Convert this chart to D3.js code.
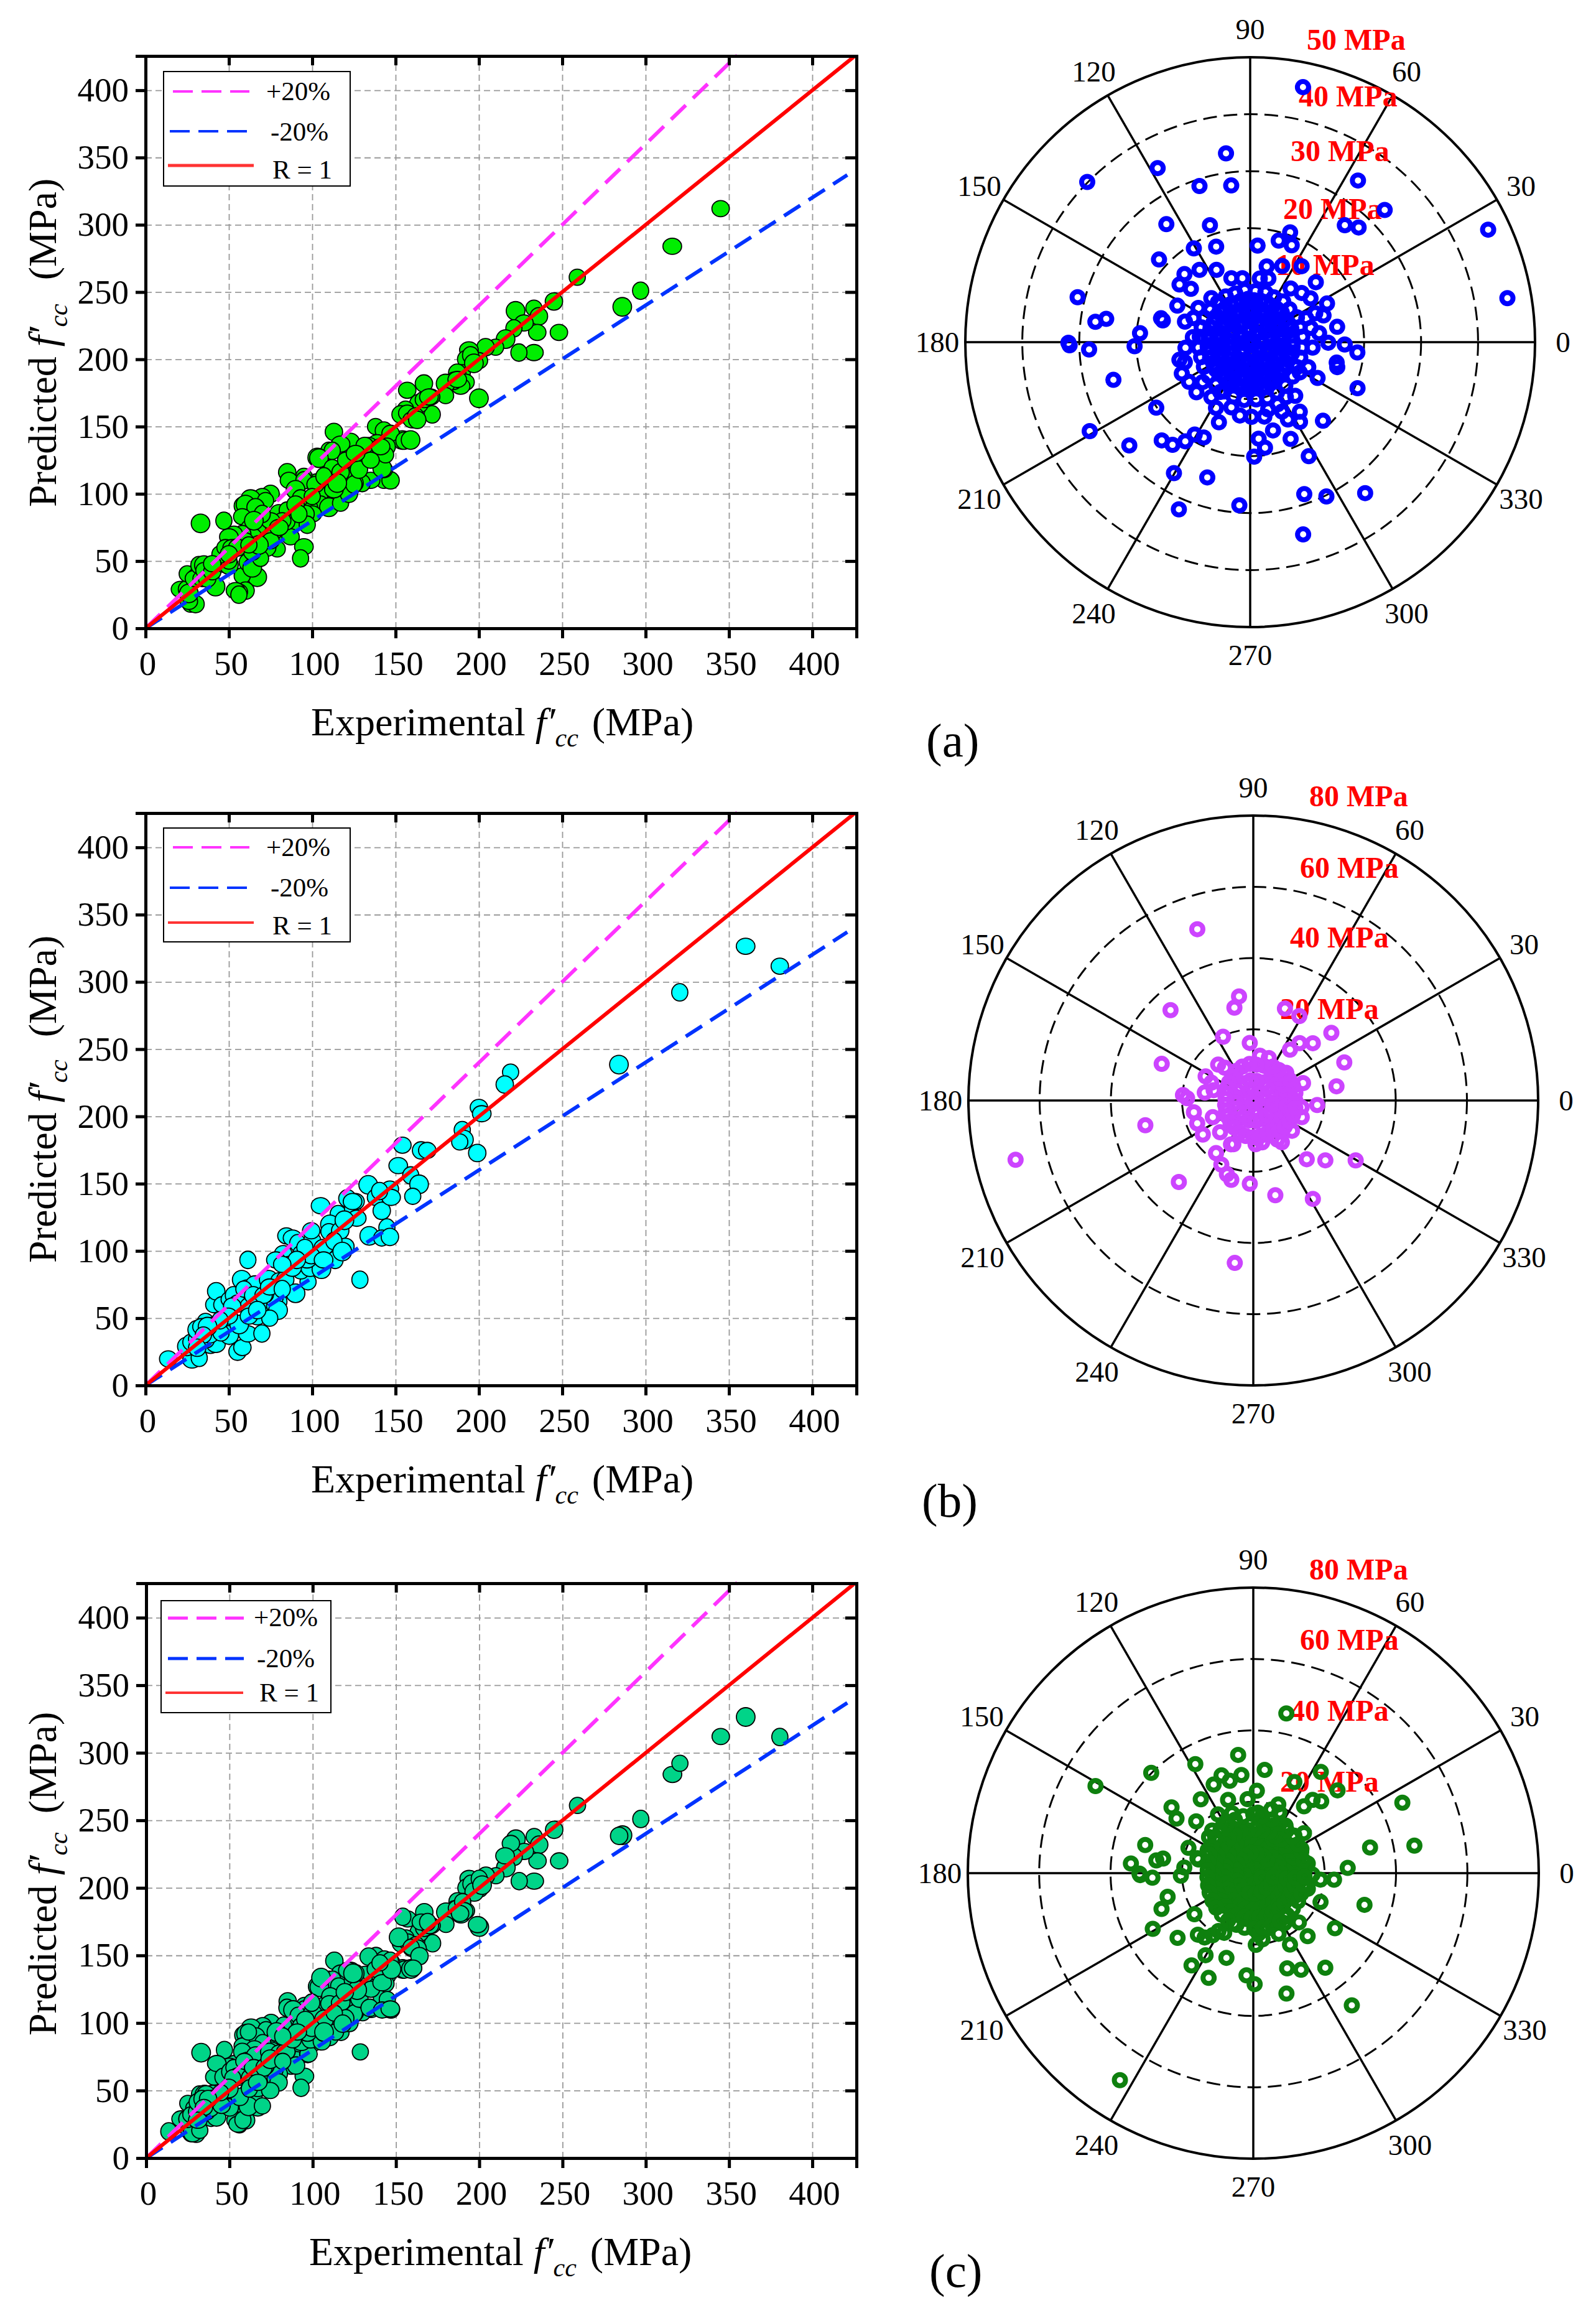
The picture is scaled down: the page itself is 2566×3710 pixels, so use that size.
<!DOCTYPE html>
<html>
<head>
<meta charset="utf-8">
<title>Predicted vs experimental f'cc</title>
<style>
    body { margin: 0; background: #fff; }
    text { font-family: "Liberation Serif", serif; fill: #000; }
</style>
</head>
<body>
<svg width="2566" height="3710"></svg>
<script src="https://d3js.org/d3.v7.min.js"></script>
<script>

// scatter values (MPa)
var expA = [345,316,297,286,259,245,248,233,224,222,
    233,236,235,227,221,216,210,204,200,194,
    192,200,190,187,192,189,185,180,180,167,
    157,171,172,164,156,153,157,160,156,154,
    138,143,147,139,145,134,131,113,123,117,
    110,103,143,147,143,135,130,125,119,115,
    110,112,108,103,95,85,86,104,105,110,
    117,122,98,100,95,90,93,96,87,90,
    97,80,85,75,70,63,58,60,72,66,
    58,63,70,78,65,58,53,50,47,33,
    79,73,87,95,93,67,58,60,56,54,
    56,42,27,30,26,21,24.5,26,25,31,
    29,34,32,35,35,37,40,45,47,50,
    50,45,48,52,61,64,69,64,77,84,
    112,104,112,117,102,113,125,142,144,132,
    131.5,141,155,159,120,128,135,126,107,115,
    100,90,82,75,70,65,60,55,75,80,
    92,68,62,50,40,187,195,197,162,163,
    167,170];
var predA = [312,284,251,239,261,243,220,205,205,236,
    238,232,220,227,223,215,209,209,199,207,
    200,171,190,190,183,180,184,182,173,182,
    177,172,159,167,163,159,160,155,140,140,
    150,147,145,138,135,135,128,146,139,137,
    132,127,110,110,118,110,108,108,115,116,
    116,105,103,108,113,116,110,100,92,90,
    93,100,90,85,110,103,97,85,80,79,
    77,85,88,100,98,97,91,92,95,90,
    83,75,72,70,68,70,70,68,80,78,
    59,60,68,60.6,52,38,39,28,27,28,
    25,31,18,18,20,29,29,26,40.5,39,
    37,37,47,47,43,37,42,49,48,47,
    50,55,60,60,49,45,52,57,72,79,
    132,126.5,119.5,116,107,103,107,119,129,128,
    136,135,139.5,140,125,118,125,130,113,108,
    98,92,80,80,85,80,65,60,65,75,
    85,62,62,55,48,185,203,197,158,155,
    170,172];

var expB = [380.5,360,320.5,284,219,215.5,200,201.7,190,191,
    188.5,199,13.6,27.9,32.2,24.8,27.2,31,39,42.2,
    36.6,31,36,40.9,33.5,38.4,48.4,50.2,45.3,55.2,
    58.1,61.4,69.8,56.2,40.9,42.4,46.1,50.9,52.7,57.7,
    60.8,55.2,62,65.8,61.4,73.9,69.5,67,62,78.2,
    80,77,80,83.8,82.6,78.2,86.2,90,97.5,93.2,
    84.5,88.2,91.3,98.7,93.2,100,99.4,105,115.6,110.6,
    110,116.8,119.9,106.8,113.7,105.5,124.2,121.1,126,126.7,
    128.6,133.6,137.9,141.7,146.6,147.3,144.8,134.2,141.7,146.6,
    154.1,151.6,159.1,164.1,160.3,165.3,169,96.9,72,88,
    59,64.6,70.8,74.5,82,79.5,74.5,67,52,49.6,
    44.7,37.2,34.7,31,99.4,106.8,113,118,95.6,90.7,
    82,124.2,140.4,119.3];
var predB = [311.7,326.5,292.2,238.5,232.9,223.7,206.7,202,189.8,182.7,
    181,172.8,19.7,18.9,20.5,29,32.1,34.4,29.8,30.5,
    34.4,41.4,47.6,44.5,43.7,37.5,49.9,37.5,39,25.1,
    28.2,38.3,38.6,45.3,60,70,60,63.9,67,78.6,
    72.4,60.8,59.2,75.5,93.3,78.6,56.9,51.5,51.5,59.2,
    62.3,65.4,77.8,78.6,98,93.3,89.5,68.5,77,85.6,
    111.2,109.6,105.7,87.9,98,107.3,115,133.6,127.4,119.7,
    114.3,115,103.4,102.6,93.3,86.4,131.3,139,136.7,124.3,
    78.6,149.1,139.8,129.8,146,139.8,117.4,111.2,109.6,110.4,
    178.6,163.4,156.1,149.5,140.6,174.7,174.7,93.3,68,88,
    71.6,67,67,73.2,71.6,56,50,56,59,51.5,
    48.4,43.7,37.5,28,96.4,93.3,107.3,99.5,102.6,93.3,
    90,136.7,144.5,122.8];

var expC = expA.concat(expB);
var predC = predA.concat(predB);

// reference lines
var upperX = [0, 355], upperY = [0, 426];
var lowerX = [0, 421], lowerY = [0, 337];
var unityX = [0, 425], unityY = [0, 425];

var axisTicks = [0, 50, 100, 150, 200, 250, 300, 350, 400];

// polar error values: angle in degrees, radius in MPa.
// the scattered marks are read one by one; the marks inside the solid centre
// cannot be told apart, so the core lists are estimates that fill the same area
var thetaA = [78.3,97.3,118,135.5,108,96.9,56.3,44.5,51,46.6,
    25.3,9.7,125.4,109,121,109.6,137.8,70,74.3,66.8,
    85.6,55.9,67.2,77.7,115,125,134,140.8,138,165.4,
    172.5,170.8,180.2,181,182.6,175.3,182,195.4,166,165,
    214.9,209,220.5,228,232.9,236.8,239,244,239.8,252.4,
    246.9,266.2,285.4,289.6,296.3,307.3,297.2,272,278,275,
    312.8,336.8,346.7,344,332,354.5,358.6,10,26.7,42.4,
    20,7.5,359.6,248.7,242.5,262,292.7,305.5,302,284.5,
    310,204.6,223,194,162.5,153.4,175,
    36,43.7,53,81.4,97,106.4,131.5,146.6,185,197,
    213,220,239,253.9,271,280.8,293.8,303,328.6,336.7,
    355,13.3,24,23,157,74,294.7,296,285,234.7];
var radiusA = [45.7,33.4,34.6,40.1,28.8,27.7,34.1,33.1,26.4,27.7,
    46.2,45.8,25.4,21.7,19.2,17.8,21.6,20.5,18.5,18.5,
    17,16.1,14.5,13.6,14,15.5,16.6,16,14,31.3,
    27.4,25.6,31.9,31.7,28.3,19.4,20.3,24.9,15.8,16.2,
    20.1,32.2,27.9,23.2,22.6,20.8,18.9,18.6,26.6,24.9,
    31.9,28.7,35,28.3,30.2,33.3,22.5,20.1,18.7,17,
    18.8,20.5,15.6,15.9,13.4,18.9,16.6,15.5,15.1,15.6,
    13.7,12.2,13.7,15.1,13,13,18.4,15,16.5,16,
    12.3,13.2,12.9,12.8,12,14.3,10.1,
    13.1,12.5,11.8,11.3,11.3,11.7,10.3,10.9,11.4,12,
    12.8,10.9,10.2,11.9,13.1,13.3,11.9,11.5,10.2,11.1,
    11,10.9,12.5,10.7,10.8,11.6,13.4,15.1,12.2,11.8];
var thetaCoreA = [5,52,97,141,186,229,277,321,
    2,19,37,55,71,90,108,125,145,161,179,197,214,233,251,269,288,305,324,341,
    3,14,26,37,49,61,72,84,95,107,118,130,142,153,165,176,188,200,211,223,235,246,258,270,281,293,304,316,328,339,351,
    1,9,18,26,34,43,51,60,68,76,85,93,102,110,118,127,135,144,152,160,169,177,186,194,202,211,219,228,236,244,253,261,270,278,286,295,303,312,320,328,337,345,354,
    6,17,28,40,51,62,73,84,96,107,118,129,141,152,163,174,186,197,208,219,231,242,253,264,276,287,298,309,321,332,343,354];
var radiusCoreA = [1.6,1.5,1.7,1.6,1.4,1.7,1.5,1.6,
    3.6,3.5,3.7,3.6,3.4,3.7,3.6,3.5,3.7,3.6,3.5,3.6,3.8,3.6,3.5,3.7,3.6,3.8,3.5,3.6,
    5.6,5.5,5.7,5.6,5.4,5.6,5.7,5.5,5.6,5.4,5.6,5.7,5.5,5.6,5.5,5.7,5.6,5.5,5.7,5.6,5.8,5.7,5.9,5.8,5.7,5.9,5.7,5.6,5.5,5.7,5.6,
    7.5,7.4,7.6,7.5,7.3,7.6,7.5,7.4,7.6,7.5,7.4,7.6,7.5,7.3,7.5,7.4,7.6,7.5,7.3,7.4,7.5,7.3,7.5,7.4,7.6,7.5,7.7,7.6,7.8,7.9,8,8.1,8,7.9,8.1,7.8,7.9,7.7,7.6,7.5,7.4,7.6,7.5,
    9.2,9.1,9.3,9,9.2,8.9,9.1,9,9.2,8.9,9.1,9,9,9.1,8.9,8.9,9.1,9,9.2,9.4,9.6,9.8,10,10.2,10.1,10.3,10,9.8,9.6,9.3,9.2,9.1];

var thetaB = [108.1,97.8,101.5,132.5,71,61.4,40.9,115.4,93.5,51.1,
    43.9,54.2,22.7,158.2,9.7,19.3,356,175.6,178,192.9,
    194,329.7,320.3,312.3,301.2,283.1,267.6,254.5,250.3,243.5,
    234.7,227.6,263.5,322,153.1,134.4,191.2,214,202.2,170.8,
    304.4,245.5,282,341,202.4,
    165.4,157,223.7,131,81.5,70,40,352,301.7,273,243];
var radiusB = [50.6,29.5,26.6,34.4,27.3,27,29,19.8,16.2,20.7,
    23.2,17.6,27.7,27.7,23.7,14.8,18,19.8,18.6,31.1,
    68.8,33.3,26.3,22.3,32.3,27.3,23.4,23.1,22,20.1,
    18.1,31,45.9,13.8,15,14.1,17,17.1,17,13.8,
    14.2,13.5,12,14.4,12.3,
    11.5,12.8,12.9,12.2,12.7,12.7,12.1,13.7,12.9,12.3,13.8];
var thetaCoreB = [12,58,103,148,190,238,283,330,
    8,26,44,61,80,97,115,133,150,170,187,205,222,240,259,276,294,312,330,349,
    4,16,27,39,50,62,73,85,96,108,120,131,143,154,166,177,189,201,212,224,235,247,258,270,282,293,305,316,328,339,351,
    0,10,20,30,40,50,60,310,320,330,340,350];
var radiusCoreB = [2.6,2.5,2.7,2.4,2.6,2.5,2.7,2.6,
    5.6,5.7,5.5,5.8,5.6,5.7,5.4,5.3,5.2,5,4.9,5.1,5.3,5.5,5.7,5.8,5.7,5.6,5.8,5.7,
    9.5,9.6,9.4,9.7,9.8,10,10.2,10.1,10.3,10,9.6,9,8.5,8.2,8,7.8,8,8.2,8.5,8.9,9.3,9.8,10.2,10.3,10.1,10,9.8,9.7,9.5,9.6,9.4,
    11.8,12,11.9,11.7,11.5,11.2,11,11.2,11.5,11.7,11.9,12];

var thetaExtraC = [237.2,151.1,12.4,344.1,306.7,3.2,326,310.8,355.4,65.7,
    83.7,104.3,114.1,94.4,87.5,52.8,141.2,144.6,175.5,158.7,
    201.3,236.2,270.7,38.3,
    2,12,21,31,40,50,59,69,78,88,97,107,116,126,135,145,154,164,173,183,192,202,211,221,230,240,249,259,268,278,287,297,306,316,325,335,344,354,
    5,14,24,33,43,52,62,71,81,90,100,109,119,128,138,147,157,166,176,185,195,204,214,223,233,242,252,261,271,280,290,299,309,318,328,337,347,356];
var radiusExtraC = [69,50.5,33.5,32.4,46.2,26.5,27.6,23.3,22.7,28,
    29.1,26.7,27.2,20.8,23.1,23.5,29.4,26.4,34.4,19.5,
    27.6,31.1,31.1,18.1,
    12,11.8,12.1,12.2,12,12.3,12.1,12.4,12.2,12.3,12.1,12.4,12,11.8,11.6,11.3,11.1,10.9,10.8,11,11.2,11.4,11.6,11.9,12.1,12.3,12.5,12.4,12.6,12.4,12.5,12.2,12.3,12,12.1,11.9,12,11.8,
    14.6,14.5,14.7,14.8,14.9,15.2,15.6,15.9,16.2,16.5,16.2,15.8,15.4,15,14.4,13.8,13.3,13,12.8,12.9,13.1,13.4,13.8,14.2,14.6,15,15.2,15.5,15.6,15.5,15.4,15.3,15.1,14.9,14.8,14.6,14.5,14.4];

var spokeAngles = [0, 30, 60, 90, 120, 150, 180, 210, 240, 270, 300, 330];
var ringsA = [10, 20, 30, 40, 50];
var ringsB = [20, 40, 60, 80];

var svg = d3.select("svg");

// slightly uneven markers, the source symbols are not quite round
var markerShapes = [[14, 13], [15, 13], [13, 14], [15, 15], [13, 13], [14, 14]];

function drawScatter(cfg) {
    var g = svg.append("g");
    var x = d3.scaleLinear().domain([0, 426.5]).range([cfg.left, cfg.right]);
    var y = d3.scaleLinear().domain([0, 425.5]).range([cfg.bottom, cfg.top]);
    var w = cfg.right - cfg.left, h = cfg.bottom - cfg.top;

    // grid
    var gx = g.append("g").attr("transform", "translate(0," + cfg.bottom + ")")
        .call(d3.axisBottom(x).tickValues(axisTicks.slice(1)).tickSize(-h).tickFormat(""));
    var gy = g.append("g").attr("transform", "translate(" + cfg.left + ",0)")
        .call(d3.axisLeft(y).tickValues(axisTicks.slice(1)).tickSize(-w).tickFormat(""));
    [gx, gy].forEach(function(a) {
        a.select(".domain").remove();
        a.selectAll("line").attr("stroke", "#999").attr("stroke-width", 1.8).attr("stroke-dasharray", "10,6");
    });

    // points
    g.selectAll("ellipse").data(cfg.xs).enter().append("ellipse")
        .attr("cx", function(d) { return x(d); })
        .attr("cy", function(d, i) { return y(cfg.ys[i]); })
        .attr("rx", function(d, i) { return markerShapes[i % 6][0]; })
        .attr("ry", function(d, i) { return markerShapes[i % 6][1]; })
        .attr("fill", cfg.fill)
        .attr("stroke", "#000")
        .attr("stroke-width", 1.8);

    // reference lines
    var refs = [
        {xs: upperX, ys: upperY, color: "#ff33ff", dash: "33,16", width: 6},
        {xs: lowerX, ys: lowerY, color: "#0033ff", dash: "31,16", width: 6},
        {xs: unityX, ys: unityY, color: "#ff0000", dash: null, width: 6}
    ];
    var line = d3.line();
    refs.forEach(function(r) {
        g.append("path")
            .attr("d", line(r.xs.map(function(v, i) { return [x(v), y(r.ys[i])]; })))
            .attr("fill", "none")
            .attr("stroke", r.color)
            .attr("stroke-width", r.width)
            .attr("stroke-dasharray", r.dash);
    });

    // axes with outer ticks, mirrored inner ticks on top and right
    var axes = [
        g.append("g").attr("transform", "translate(0," + cfg.bottom + ")")
            .call(d3.axisBottom(x).tickValues(axisTicks).tickSize(16).tickPadding(20).tickFormat(d3.format("d"))),
        g.append("g").attr("transform", "translate(" + cfg.left + ",0)")
            .call(d3.axisLeft(y).tickValues(axisTicks).tickSize(16).tickPadding(11).tickFormat(d3.format("d"))),
        g.append("g").attr("transform", "translate(0," + cfg.top + ")")
            .call(d3.axisTop(x).tickValues(axisTicks).tickSize(-15).tickFormat("")),
        g.append("g").attr("transform", "translate(" + cfg.right + ",0)")
            .call(d3.axisRight(y).tickValues(axisTicks).tickSize(-18).tickFormat(""))
    ];
    axes.forEach(function(a) {
        a.select(".domain").attr("stroke", "#000").attr("stroke-width", 5);
        a.selectAll("line").attr("stroke", "#000").attr("stroke-width", 5);
        a.selectAll("text").attr("font-size", 55);
    });
    axes[0].selectAll("text").attr("dx", 3);

    // titles
    var xt = g.append("text").attr("x", cfg.xTitleX).attr("y", cfg.bottom + 172).attr("font-size", 64);
    fccLabel(xt, "Experimental ", 22);
    var yt = g.append("text")
        .attr("transform", "translate(90," + cfg.yTitleY + ") rotate(-90)")
        .attr("font-size", 64);
    fccLabel(yt, "Predicted ", cfg.yGap);

    // legend
    var lg = cfg.legend;
    g.append("rect").attr("x", lg.x).attr("y", lg.y).attr("width", lg.w).attr("height", lg.h)
        .attr("fill", "#fff").attr("stroke", "#000").attr("stroke-width", 2);
    lg.rows.forEach(function(r) {
        g.append("line").attr("x1", r.x1).attr("x2", r.x2).attr("y1", r.y).attr("y2", r.y)
            .attr("stroke", r.color).attr("stroke-width", r.width).attr("stroke-dasharray", r.dash);
        g.append("text").attr("x", r.tx).attr("y", r.ty).attr("font-size", 43).text(r.label);
    });
}

function fccLabel(t, start, gap) {
    t.append("tspan").text(start);
    t.append("tspan").attr("font-style", "italic").text("f\u2032");
    t.append("tspan").attr("font-style", "italic").attr("font-size", 42).attr("dy", 18).text("cc");
    t.append("tspan").attr("dy", -18).attr("dx", gap).text("(MPa)");
}

function drawPolar(cfg) {
    var g = svg.append("g").attr("transform", "translate(" + cfg.cx + "," + cfg.cy + ")");
    var r = d3.scaleLinear().domain([0, cfg.rings[cfg.rings.length - 1]]).range([0, cfg.R]);

    function toXY(deg, radius) {
        return d3.pointRadial((90 - deg) * Math.PI / 180, radius);
    }

    g.selectAll(".ring").data(cfg.rings).enter().append("circle")
        .attr("class", "ring")
        .attr("r", function(d) { return r(d); })
        .attr("fill", "none")
        .attr("stroke", "#000")
        .attr("stroke-width", function(d, i) { return i == cfg.rings.length - 1 ? 4 : 3; })
        .attr("stroke-dasharray", function(d, i) { return i == cfg.rings.length - 1 ? null : "22,11"; });

    spokeAngles.forEach(function(a) {
        var p = toXY(a, cfg.R);
        g.append("line").attr("x1", 0).attr("y1", 0).attr("x2", p[0]).attr("y2", p[1])
            .attr("stroke", "#000").attr("stroke-width", 3.5);
        var q = toXY(a, cfg.R + 45);
        g.append("text").attr("x", q[0]).attr("y", q[1]).attr("dy", "0.35em")
            .attr("text-anchor", "middle").attr("font-size", 47).text(a);
    });

    cfg.labels.forEach(function(l) {
        svg.append("text").attr("x", l[0]).attr("y", l[1])
            .attr("font-size", 48).attr("font-weight", "bold").style("fill", "#ff0000")
            .text(l[2] + " MPa");
    });

    // on top of the red labels
    var top = svg.append("g").attr("transform", "translate(" + cfg.cx + "," + cfg.cy + ")");
    top.selectAll("circle").data(cfg.thetas).enter().append("circle")
        .attr("cx", function(d, i) { return toXY(d, r(cfg.radii[i]))[0]; })
        .attr("cy", function(d, i) { return toXY(d, r(cfg.radii[i]))[1]; })
        .attr("r", 9)
        .attr("fill", "none")
        .attr("stroke", cfg.color)
        .attr("stroke-width", 8);

    svg.append("text").attr("x", cfg.tag[0]).attr("y", cfg.tag[1]).attr("font-size", 77).text(cfg.tag[2]);
}

function legendRows(c) {
    return [
        {x1: c.mx1, x2: c.mx2, y: c.ys[0], tx: c.tx[0], ty: c.tys[0], label: "+20%", color: "#ff33ff", width: c.lw, dash: "32,14"},
        {x1: c.bx1, x2: c.mx2, y: c.ys[1], tx: c.tx[1], ty: c.tys[1], label: "-20%", color: "#0033ff", width: c.lw, dash: "32,14"},
        {x1: c.rx1, x2: c.rx2, y: c.ys[2], tx: c.tx[2], ty: c.tys[2], label: "R = 1", color: "#ff3333", width: c.rw, dash: null}
    ];
}

drawScatter({left: 234, right: 1377, top: 90, bottom: 1010, fill: "#00ee00", xs: expA, ys: predA,
    xTitleX: 500, yTitleY: 815, yGap: 38,
    legend: {x: 263, y: 115, w: 300, h: 184, rows: legendRows({mx1: 278, bx1: 273, mx2: 401, rx1: 270, rx2: 408,
        ys: [147, 211, 266], tx: [428, 435, 438], tys: [161, 226, 287], lw: 4, rw: 5})}});
drawScatter({left: 234, right: 1377, top: 1307, bottom: 2227, fill: "#00ffff", xs: expB, ys: predB,
    xTitleX: 500, yTitleY: 2030, yGap: 36,
    legend: {x: 263, y: 1331, w: 300, h: 183, rows: legendRows({mx1: 278, bx1: 273, mx2: 401, rx1: 270, rx2: 408,
        ys: [1362, 1427, 1483], tx: [428, 435, 438], tys: [1376, 1441, 1502], lw: 4, rw: 4})}});
drawScatter({left: 235, right: 1377, top: 2545, bottom: 3469, fill: "#00d488", xs: expC, ys: predC,
    xTitleX: 497, yTitleY: 3272, yGap: 30,
    legend: {x: 259, y: 2573, w: 273, h: 180, rows: legendRows({mx1: 270, bx1: 270, mx2: 392, rx1: 266, rx2: 391,
        ys: [2601, 2666, 2721], tx: [408, 413, 417], tys: [2614, 2680, 2735], lw: 5, rw: 4})}});

drawPolar({cx: 2010, cy: 550, R: 458, rings: ringsA, thetas: thetaA.concat(thetaCoreA), radii: radiusA.concat(radiusCoreA), color: "#0000ff",
    labels: [[2101, 80, 50], [2088, 171, 40], [2075, 259, 30], [2063, 352, 20], [2051, 442, 10]],
    tag: [1489, 1216, "(a)"]});
drawPolar({cx: 2015, cy: 1769, R: 458, rings: ringsB, thetas: thetaB.concat(thetaCoreB), radii: radiusB.concat(radiusCoreB), color: "#cc44ff",
    labels: [[2105, 1296, 80], [2090, 1411, 60], [2074, 1523, 40], [2058, 1638, 20]],
    tag: [1482, 2438, "(b)"]});
drawPolar({cx: 2015, cy: 3011, R: 459, rings: ringsB,
    thetas: thetaA.concat(thetaCoreA, thetaCoreB, thetaExtraC),
    radii: radiusA.concat(radiusCoreA, radiusCoreB, radiusExtraC),
    color: "#0e800e",
    labels: [[2105, 2539, 80], [2090, 2652, 60], [2074, 2766, 40], [2058, 2880, 20]],
    tag: [1494, 3676, "(c)"]});

</script>
</body>
</html>
